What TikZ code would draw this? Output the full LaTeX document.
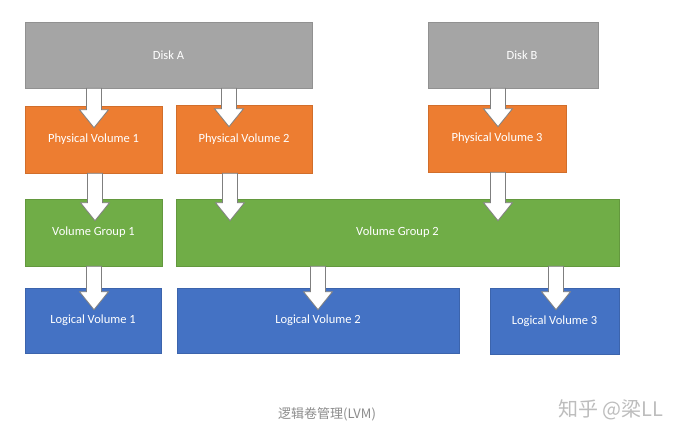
\documentclass[tikz,border=0pt]{standalone}
\usepackage{fontspec}
\setmainfont{Carlito}
\newfontfamily\cjk{Noto Sans CJK SC}
\usetikzlibrary{calc}
\definecolor{diskgray}{HTML}{A5A5A5}
\definecolor{pvorange}{HTML}{ED7D31}
\definecolor{vggreen}{HTML}{70AD47}
\definecolor{lvblue}{HTML}{4472C4}
\definecolor{arrowline}{HTML}{7F7F7F}
\definecolor{captiongray}{HTML}{8C8C8C}
\definecolor{markgray}{HTML}{BDBDBD}
\tikzset{
  box/.style={rectangle, inner sep=0pt, text=white, font=\fontsize{12.5}{14}\selectfont,
    draw=#1!88!black, fill=#1, line width=0.6pt},
  blockarrow/.style={draw=arrowline, fill=white, line width=0.8pt, line join=miter},
}
% block arrow from the bottom of #1 into the top of #2, at x = #3
\newcommand\blockarr[3]{%
  \path[blockarrow] let \p1=(#1.south), \p2=(#2.north) in
    ({#3pt-7.5pt},\y1) -- ({#3pt-7.5pt},{\y2-4pt}) -- ({#3pt-14.5pt},{\y2-4pt})
    -- ({#3pt},{\y2-22pt}) -- ({#3pt+14.5pt},{\y2-4pt}) -- ({#3pt+7.5pt},{\y2-4pt})
    -- ({#3pt+7.5pt},\y1) -- cycle;}
\begin{document}
\begin{tikzpicture}[x=1pt,y=-1pt]
\useasboundingbox[fill=white] (0,0) rectangle (683,441);
% disks
\node[box=diskgray, minimum width=287pt, minimum height=66pt] (diskA) at (168.5,55) {Disk A};
\node[box=diskgray, minimum width=170pt, minimum height=66pt] (diskB) at (513,55) {\hspace*{18pt}Disk B};
% physical volumes
\node[box=pvorange, minimum width=137pt, minimum height=67pt] (pv1) at (93.5,139.5) {Physical Volume 1};
\node[box=pvorange, minimum width=136pt, minimum height=68pt] (pv2) at (244,139) {Physical Volume 2};
\node[box=pvorange, minimum width=138pt, minimum height=67pt] (pv3) at (497,138.5) {Physical Volume 3};
% volume groups
\node[box=vggreen, minimum width=137pt, minimum height=67pt] (vg1) at (93.5,232.5) {Volume Group 1};
\node[box=vggreen, minimum width=443pt, minimum height=67pt] (vg2) at (397.5,232.5) {Volume Group 2};
% logical volumes
\node[box=lvblue, minimum width=136pt, minimum height=65pt] (lv1) at (93,320.5) {Logical Volume 1};
\node[box=lvblue, minimum width=282pt, minimum height=65pt] (lv2) at (318,320.5) {Logical Volume 2};
\node[box=lvblue, minimum width=129pt, minimum height=66pt] (lv3) at (554.5,321) {Logical Volume 3};
% arrows
\blockarr{diskA}{pv1}{94}
\blockarr{diskA}{pv2}{229}
\blockarr{diskB}{pv3}{498}
\blockarr{pv1}{vg1}{95}
\blockarr{pv2}{vg2}{230}
\blockarr{pv3}{vg2}{498}
\blockarr{vg1}{lv1}{94}
\blockarr{vg2}{lv2}{318}
\blockarr{vg2}{lv3}{556}
% captions
\node[text=captiongray, font=\cjk\fontsize{13}{15}\selectfont, inner sep=0pt] (caption) at (327,414) {逻辑卷管理(LVM)};
\node[text=markgray, font=\cjk\fontsize{20}{22}\selectfont, inner sep=0pt] (mark) at (611,410) {知乎 @梁LL};
\end{tikzpicture}
\end{document}
